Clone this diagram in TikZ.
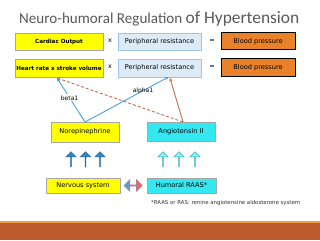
\documentclass[tikz,border=0pt]{standalone}
\usepackage{fontspec}
\setmainfont{Carlito}
\newfontfamily\boxfont{DejaVu Sans}
\usetikzlibrary{shapes.arrows,calc,arrows.meta}
\definecolor{ttl}{HTML}{595959}
\definecolor{ylw}{HTML}{FFFF00}
\definecolor{ltb}{HTML}{DDEBF7}
\definecolor{ltbd}{HTML}{9DC3E6}
\definecolor{org}{HTML}{E9822A}
\definecolor{cyn}{HTML}{33E8F0}
\definecolor{bdgray}{HTML}{A6A6A6}
\definecolor{bluel}{HTML}{4BA3D8}
\definecolor{brownl}{HTML}{C0704A}
\definecolor{band}{HTML}{BE5B2C}
\definecolor{bandline}{HTML}{F0A040}
\definecolor{darr}{HTML}{2E86C8}
\definecolor{larr}{HTML}{80F5F5}
\definecolor{larrd}{HTML}{3AAFB0}
\tikzset{
  base/.style={inner sep=0pt, outer sep=0pt, font=\boxfont\fontsize{6.6}{7}\selectfont, text=black},
  ybox/.style={base, fill=ylw, draw=bdgray, line width=0.6pt},
  bbox/.style={base, fill=ltb, draw=ltbd, line width=0.6pt},
  obox/.style={base, fill=org, draw=black, line width=1pt},
  cbox/.style={base, fill=cyn, draw=bdgray, line width=0.6pt},
  boldtxt/.style={font=\boxfont\bfseries\fontsize{5.6}{6}\selectfont},
  blink/.style={draw=bluel, line width=0.9pt, -{Stealth[length=3.5pt,width=3.5pt]}},
  rlink/.style={draw=brownl, line width=0.9pt, -{Stealth[length=3.5pt,width=3.5pt]}},
  uparr/.style={single arrow, shape border rotate=90, minimum height=15pt, minimum width=10pt, single arrow head extend=2.5pt, inner sep=0pt, line width=0.5pt},
  darrow/.style={uparr, fill=darr, draw=darr!80!black},
  larrow/.style={uparr, fill=larr, draw=larrd},
  oper/.style={font=\boxfont\fontsize{6.5}{7}\selectfont, text=black, inner sep=0pt},
  lbl/.style={font=\boxfont\fontsize{6}{7}\selectfont, text=black, inner sep=0pt}
}
\begin{document}
\begin{tikzpicture}[x=1pt,y=-1pt]
\useasboundingbox (0,0) rectangle (320,240);
\fill[white] (0,0) rectangle (320,240);
% title
\node[anchor=base west, inner sep=0pt, text=ttl] (title) at (19,23.5) {\fontsize{15.1}{17}\selectfont Neuro-humoral Regulation \fontsize{17.4}{19}\selectfont of Hypertension};
% row 1
\node[ybox, minimum width=88pt, minimum height=17pt, boldtxt] (co) at (59,41.5) {Cardiac Output};
\node[oper] (x1) at (110,41) {x};
\node[bbox, minimum width=83pt, minimum height=17pt] (pr1) at (159.5,41.5) {Peripheral resistance};
\node[oper] (e1) at (212,41) {=};
\node[obox, minimum width=74pt, minimum height=17pt] (bp1) at (258,41.5) {Blood pressure};
% row 2
\node[ybox, minimum width=88pt, minimum height=18pt, boldtxt] (hr) at (59,68) {Heart rate x stroke volume};
\node[oper] (x2) at (110,67) {x};
\node[bbox, minimum width=83pt, minimum height=18pt] (pr2) at (159.5,68) {Peripheral resistance};
\node[oper] (e2) at (212,67) {=};
\node[obox, minimum width=74pt, minimum height=18pt] (bp2) at (258,68) {Blood pressure};
% mediators
\node[ybox, minimum width=68pt, minimum height=20pt] (ne) at (85,132) {Norepinephrine};
\node[cbox, minimum width=68pt, minimum height=19pt] (at) at (181,131.5) {Angiotensin II};
% connectors
\draw[rlink, dashed, dash pattern=on 3pt off 2pt] ($(at.north)+(2,0)$) -- ($(hr.south)+(-2,1)$);
\draw[rlink] ($(at.north)+(2,0)$) -- ($(pr2.south)+(10.5,1)$);
\draw[blink] (ne.north) -- ($(hr.south)+(-2,1)$) node[lbl, pos=0.55, fill=white, inner sep=1pt] (b1) {beta1};
\draw[blink] (ne.north) -- ($(pr2.south)+(9,0)$);
\node[lbl] (a1) at (143,91) {alpha1};
% up arrows
\node[darrow] (d1) at (71,159.5) {};
\node[darrow] (d2) at (85.5,159.5) {};
\node[darrow] (d3) at (100,159.5) {};
\node[larrow] (l1) at (163,159.5) {};
\node[larrow] (l2) at (179,159.5) {};
\node[larrow] (l3) at (195,159.5) {};
% systems
\node[ybox, minimum width=74pt, minimum height=15pt] (ns) at (83,185.5) {Nervous system};
\node[cbox, minimum width=69pt, minimum height=15pt] (hum) at (181.5,185.5) {Humoral RAAS*};
\node[double arrow, minimum height=19pt, minimum width=13pt, double arrow head extend=1.5pt, inner sep=0pt, left color=bluel, right color=red!65, draw=none] (dbl) at (133,185.5) {};
\node[anchor=west, inner sep=0pt, font=\boxfont\fontsize{5.4}{6}\selectfont, text=black!80] (fn) at (151,203.5) {*RAAS or RAS: renine angiotensine aldosterone system};
% bottom band
\fill[bandline] (0,220.5) rectangle (320,223);
\fill[band] (0,223) rectangle (320,240);
\end{tikzpicture}
\end{document}
